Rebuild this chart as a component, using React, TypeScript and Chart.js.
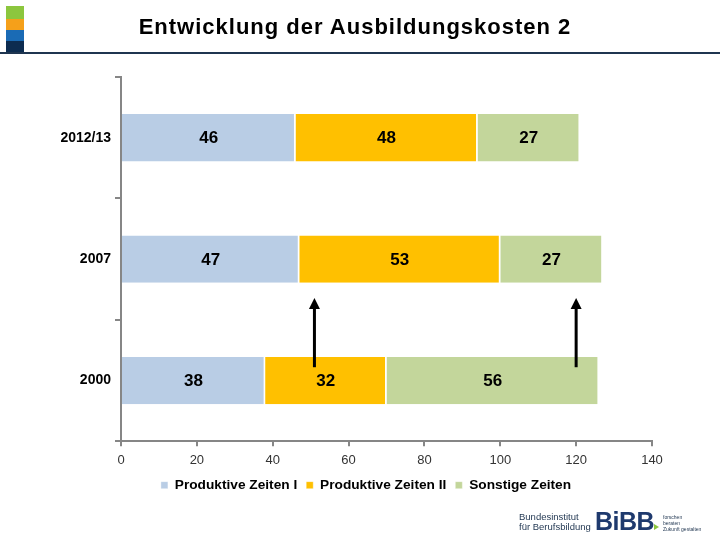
import React, { useEffect, useRef } from "react";
import { Chart, registerables } from "chart.js";

Chart.register(...registerables);

const categories = ["2012/13", "2007", "2000"];
const seriesNames = ["Produktive Zeiten I", "Produktive Zeiten II", "Sonstige Zeiten"];
const produktivI = [46, 47, 38];
const produktivII = [48, 53, 32];
const sonstige = [27, 27, 56];
const seriesColors = ["#b9cde5", "#ffc000", "#c3d69b"];
const xMin = 0;
const xMax = 140;
const xStep = 20;
// arrows: x value, from / to in category-index units
const arrowXs = [51, 120];
const arrowFrom = 1.89;
const arrowTo = 1.32;

const FONT = "'Liberation Sans', Arial, sans-serif";

const labelPlugin = {
  id: "segLabels",
  afterDatasetsDraw(chart: any) {
    const ctx = chart.ctx;
    ctx.save();
    ctx.font = `bold 17px ${FONT}`;
    ctx.fillStyle = "#000";
    ctx.textAlign = "center";
    ctx.textBaseline = "middle";
    chart.data.datasets.forEach((ds: any, di: number) => {
      const meta = chart.getDatasetMeta(di);
      meta.data.forEach((el: any, i: number) => {
        const cx = (el.x + el.base) / 2;
        ctx.fillText(String(ds.data[i]), cx, el.y + 1);
      });
    });
    ctx.restore();
  },
};

const arrowPlugin = {
  id: "arrows",
  afterDatasetsDraw(chart: any) {
    const ctx = chart.ctx;
    const xs = chart.scales.x;
    const ys = chart.scales.y;
    ctx.save();
    ctx.strokeStyle = "#000";
    ctx.fillStyle = "#000";
    ctx.lineWidth = 3;
    arrowXs.forEach((v) => {
      const x = xs.getPixelForValue(v);
      const y1 = ys.getPixelForValue(arrowFrom);
      const y2 = ys.getPixelForValue(arrowTo);
      ctx.beginPath();
      ctx.moveTo(x, y1);
      ctx.lineTo(x, y2 + 8);
      ctx.stroke();
      ctx.beginPath();
      ctx.moveTo(x, y2);
      ctx.lineTo(x - 5.5, y2 + 11);
      ctx.lineTo(x + 5.5, y2 + 11);
      ctx.closePath();
      ctx.fill();
    });
    ctx.restore();
  },
};

// shift the legend to the right so it sits under the plot like the original
const legendShift = {
  id: "legendShift",
  afterLayout(chart: any) {
    const lg = chart.legend;
    if (lg) {
      lg.left += 40;
      lg.right += 40;
    }
  },
};

export default function App() {
  const ref = useRef<HTMLCanvasElement>(null);
  useEffect(() => {
    if (!ref.current) return;
    const data = [produktivI, produktivII, sonstige];
    const chart = new Chart(ref.current, {
      type: "bar",
      data: {
        labels: categories,
        datasets: seriesNames.map((name, i) => ({
          label: name,
          data: data[i],
          backgroundColor: seriesColors[i],
          borderColor: "#ffffff",
          borderWidth: { left: 0, right: 1.5, top: 0, bottom: 0 },
          borderSkipped: false,
          categoryPercentage: 1,
          barPercentage: 0.39,
        })),
      },
      options: {
        indexAxis: "y",
        responsive: false,
        animation: false,
        layout: { padding: { top: 77, left: 0, right: 68, bottom: 38 } },
        scales: {
          x: {
            stacked: true,
            min: xMin,
            max: xMax,
            ticks: { stepSize: xStep, color: "#333", font: { family: FONT, size: 13 }, padding: 6 },
            grid: { drawOnChartArea: false, tickLength: 5, color: "#868686", lineWidth: 2 },
            border: { color: "#868686", width: 2 },
            afterFit(scale: any) {
              scale.height = 28;
            },
          },
          y: {
            stacked: true,
            ticks: { color: "#000", font: { family: FONT, size: 14, weight: "bold" }, padding: 4 },
            grid: { drawOnChartArea: false, tickLength: 6, color: "#868686", lineWidth: 2, offset: true },
            border: { color: "#868686", width: 2 },
            afterFit(scale: any) {
              scale.width = 121;
            },
          },
        },
        plugins: {
          legend: {
            position: "bottom",
            labels: {
              boxWidth: 7,
              boxHeight: 7,
              padding: 9,
              color: "#000",
              font: { family: FONT, size: 13.7, weight: "bold" },
            },
          },
          tooltip: { enabled: false },
        },
      },
      plugins: [labelPlugin, arrowPlugin, legendShift],
    } as any);
    return () => chart.destroy();
  }, []);

  return (
    <div style={{ position: "fixed", left: 0, top: 0, width: 720, height: 540, background: "#fff", overflow: "hidden", fontFamily: FONT }}>
      <canvas ref={ref} width={720} height={540} style={{ position: "absolute", left: 0, top: 0 }} />
      <div style={{ position: "absolute", left: 6, top: 6, width: 18, height: 13, background: "#8cc63e" }} />
      <div style={{ position: "absolute", left: 6, top: 19, width: 18, height: 11, background: "#f5a01a" }} />
      <div style={{ position: "absolute", left: 6, top: 30, width: 18, height: 11, background: "#1a6bb5" }} />
      <div style={{ position: "absolute", left: 6, top: 41, width: 18, height: 12, background: "#0d2c50" }} />
      <div style={{ position: "absolute", left: 0, top: 52, width: 720, height: 2, background: "#1f3550" }} />
      <div style={{ position: "absolute", left: 0, width: 710, top: 14, textAlign: "center", fontSize: 22, fontWeight: "bold", letterSpacing: 1, color: "#000", whiteSpace: "nowrap" }}>
        Entwicklung der Ausbildungskosten 2
      </div>
      <div style={{ position: "absolute", left: 519, top: 512, fontSize: 9.5, lineHeight: "10px", color: "#1f3550", whiteSpace: "nowrap" }}>
        Bundesinstitut<br />für Berufsbildung
      </div>
      <div style={{ position: "absolute", left: 595, top: 507, fontSize: 25, fontWeight: "bold", color: "#1f3a6e", whiteSpace: "nowrap", letterSpacing: -0.5 }}>
        BiBB
      </div>
      <div style={{ position: "absolute", left: 654, top: 524, width: 0, height: 0, borderTop: "3px solid transparent", borderBottom: "3px solid transparent", borderLeft: "5px solid #8cc63e" }} />
      <div style={{ position: "absolute", left: 663, top: 514, fontSize: 5, lineHeight: "6px", color: "#1f3550", whiteSpace: "nowrap" }}>
        forschen<br />beraten<br />Zukunft gestalten
      </div>
    </div>
  );
}
